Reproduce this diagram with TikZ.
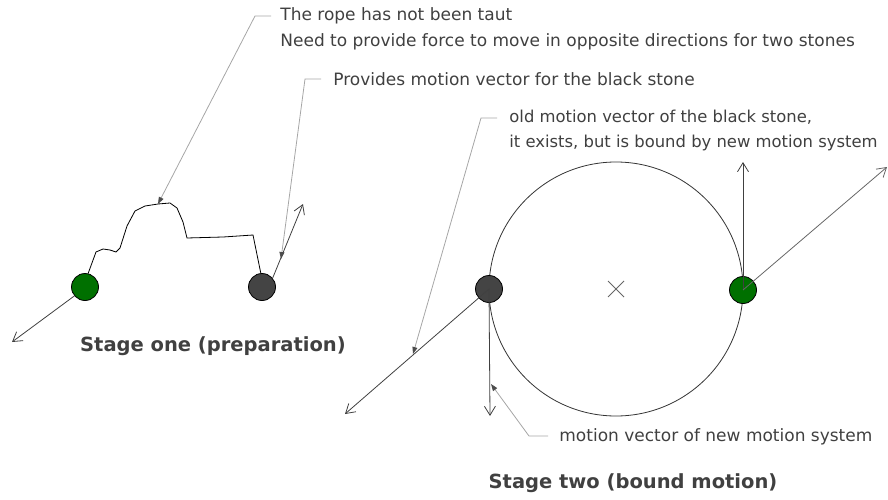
\documentclass[tikz,border=0pt]{standalone}
\usepackage{fontspec}
\setmainfont{DejaVu Sans}
\usetikzlibrary{arrows.meta}
\definecolor{stonegreen}{RGB}{0,112,0}
\definecolor{stonegray}{RGB}{68,68,68}
\definecolor{textgray}{RGB}{64,64,64}

\begin{document}
\begin{tikzpicture}
[
x=1pt,y=-1pt,line width=0.8pt,
stone/.style={circle,draw=black,inner sep=0pt,minimum size=27pt},
vec/.style={draw=black!75,-{Straight Barb[length=9pt,width=11pt]}},
callout/.style={draw=black!35,-{Triangle[length=7pt,width=5pt,color=black!70]}},
note/.style={text=textgray,font=\fontsize{17}{25.5}\selectfont,anchor=west,inner sep=0pt,align=left},
title/.style={text=textgray,font=\fontsize{19.5}{22}\selectfont\bfseries,inner sep=0pt}
]
\useasboundingbox (0,0) rectangle (888,500);

% stage one
\node[stone,fill=stonegreen] (g1) at (85,287){ };
\node[stone,fill=stonegray] (b1) at (262,287){ };
\coordinate (ropetop) at (158,204);
\draw[black] (g1.77) -- (96,252) -- (103,249) -- (110,250) -- (116,252)
  -- (120,248) -- (127,226) -- (135,211) -- (145,206) -- (ropetop)
  -- (170,203) -- (177,208) -- (183,222) -- (187,238) -- (223,237)
  -- (253,235) -- (b1.95);
\coordinate (g1end) at (12,342);
\coordinate (b1end) at (303,204);
\draw[vec] (g1.220) -- (g1end);
\draw[vec] (b1.40) -- (b1end);
\coordinate (b1hit) at (281,259);

\node[note] (ropenote) at (280,29)
  {The rope has not been taut\\Need to provide force to move in opposite directions for two stones};
\coordinate (ropetick) at (271,16);
\draw[callout] (ropetick) -- (255,16) -- (ropetop);
\node[note] (b1note) at (333,79) {Provides motion vector for the black stone};
\coordinate (b1tick) at (321,79);
\draw[callout] (b1tick) -- (305,79) -- (b1hit);

\node[title] (title1) at (213,346) {Stage one (preparation)};

% stage two
\coordinate (mid) at (616,289);
\draw[black!80] (mid) circle (127);
\draw[black!60] (mid) +(-8,-8) -- +(8,8) +(-8,8) -- +(8,-8);
\node[stone,fill=stonegray] (b2) at (489,289){ };
\node[stone,fill=stonegreen] (g2) at (743,290){ };
\coordinate (b2old) at (345,414);
\coordinate (b2new) at (490,416);
\coordinate (g2new) at (743,162);
\coordinate (g2old) at (887,167);
\draw[vec] (b2.center) -- (b2old);
\draw[vec] (b2.center) -- (b2new);
\draw[vec] (g2.center) -- (g2new);
\draw[vec,black!60] (g2.center) -- (g2old);

\node[note,font=\fontsize{16.4}{25}\selectfont] (oldnote) at (509,130)
  {old motion vector of the black stone,\\it exists, but is bound by new motion system};
\coordinate (oldtick) at (497,118);
\draw[callout] (oldtick) -- (481,118) -- (413,354);
\node[note] (newnote) at (559,437) {motion vector of new motion system};
\coordinate (newtick) at (548,436);
\draw[callout] (newtick) -- (529,436) -- (491,384);

\node[title] (title2) at (633,483) {Stage two (bound motion)};
\end{tikzpicture}
\end{document}
